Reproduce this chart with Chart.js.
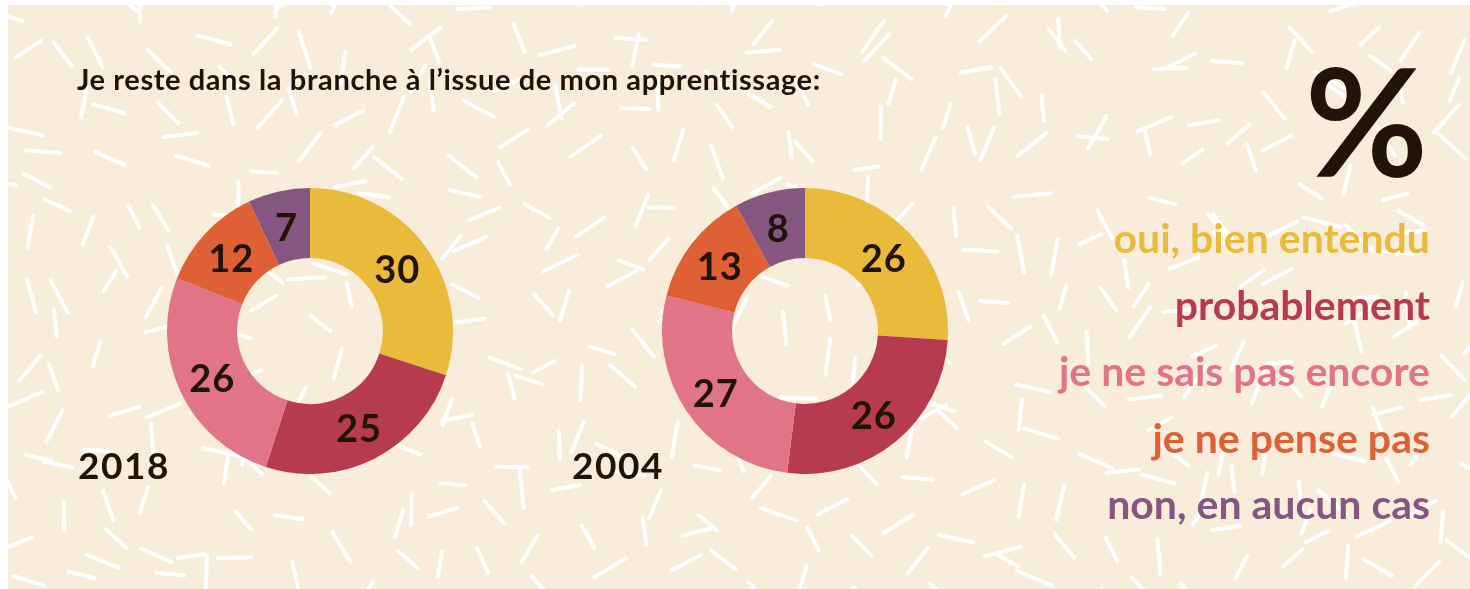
<!DOCTYPE html>
<html lang="fr">
<head>
<meta charset="utf-8">
<script src="https://cdn.jsdelivr.net/npm/chart.js@4.4.1/dist/chart.umd.min.js"></script>
<style>
  html, body { margin: 0; padding: 0; background: #fff; }
  body { width: 1470px; height: 589px; position: relative; overflow: hidden; font-family: "Lato", "Noto Sans", sans-serif; color: #21120a; }
  #panel { position: absolute; left: 8px; top: 5px; width: 1462px; height: 584px; background: #f8eddb; }
  #dashes { position: absolute; left: 8px; top: 5px; }
  .title { position: absolute; left: 77px; top: 61px; font-size: 29px; font-weight: 700; letter-spacing: 0.6px; white-space: nowrap; }
  .year { position: absolute; font-size: 37px; font-weight: 700; letter-spacing: 1.5px; }
  .chart { position: absolute; }
  .pct { position: absolute; right: 42px; top: 44px; font-size: 150px; font-weight: 700; line-height: 1; }
  #legend { position: absolute; right: 40px; top: 210px; text-align: right; }
  #legend div { font-size: 41px; font-weight: 700; height: 66.5px; line-height: 56px; white-space: nowrap; }
</style>
</head>
<body>
<div id="panel"></div>
<canvas id="dashes" width="1462" height="584"></canvas>
<div class="title">Je reste dans la branche à l’issue de mon apprentissage:</div>
<div class="year" style="left:78px; top:442px;">2018</div>
<div class="year" style="left:572px; top:442px;">2004</div>
<canvas class="chart" id="chart2018" width="286" height="286" style="left:167px; top:188px;"></canvas>
<canvas class="chart" id="chart2004" width="286" height="286" style="left:662px; top:188px;"></canvas>
<div class="pct">%</div>
<div id="legend"></div>
<script>
const categories = ["oui, bien entendu", "probablement", "je ne sais pas encore", "je ne pense pas", "non, en aucun cas"];
const values2018 = [30, 25, 26, 12, 7];
const values2004 = [26, 26, 27, 13, 8];
const colors = ["#eabb3a", "#b73b4f", "#e27489", "#e06035", "#85567f"];

// white confetti dashes in the background (decoration only)
(function drawDashes() {
  const c = document.getElementById("dashes").getContext("2d");
  let seed = 24681;
  const rnd = () => { seed = (seed * 16807) % 2147483647; return seed / 2147483647; };
  c.strokeStyle = "#ffffff";
  c.lineWidth = 4;
  c.lineCap = "round";
  const cell = 47;
  for (let y = -12; y < 600; y += cell) {
    for (let x = -12; x < 1480; x += cell) {
      const cx = x + rnd() * cell, cy = y + rnd() * cell;
      const a = rnd() * Math.PI;
      const len = 24 + rnd() * 14;
      c.beginPath();
      c.moveTo(cx - Math.cos(a) * len / 2, cy - Math.sin(a) * len / 2);
      c.lineTo(cx + Math.cos(a) * len / 2, cy + Math.sin(a) * len / 2);
      c.stroke();
    }
  }
})();

// legend as coloured text
const legend = document.getElementById("legend");
categories.forEach((label, i) => {
  const d = document.createElement("div");
  d.textContent = label;
  d.style.color = colors[i];
  legend.appendChild(d);
});

// numbers inside the ring
const ringLabels = {
  id: "ringLabels",
  afterDatasetsDraw(chart) {
    const ctx = chart.ctx;
    const meta = chart.getDatasetMeta(0);
    ctx.save();
    ctx.font = "700 38px Lato, 'Noto Sans', sans-serif";
    ctx.letterSpacing = "1px";
    ctx.fillStyle = "#21120a";
    ctx.textAlign = "center";
    ctx.textBaseline = "middle";
    meta.data.forEach((arc, i) => {
      const p = arc.tooltipPosition();
      ctx.fillText(String(chart.data.datasets[0].data[i]), p.x, p.y + 3);
    });
    ctx.restore();
  }
};

function makeDonut(id, values) {
  new Chart(document.getElementById(id), {
    type: "doughnut",
    data: {
      labels: categories,
      datasets: [{
        data: values,
        backgroundColor: colors,
        borderWidth: 0
      }]
    },
    options: {
      responsive: false,
      animation: false,
      cutout: "51%",
      layout: { padding: 0 },
      plugins: {
        legend: { display: false },
        tooltip: { enabled: false }
      }
    },
    plugins: [ringLabels]
  });
}

makeDonut("chart2018", values2018);
makeDonut("chart2004", values2004);
</script>
</body>
</html>
